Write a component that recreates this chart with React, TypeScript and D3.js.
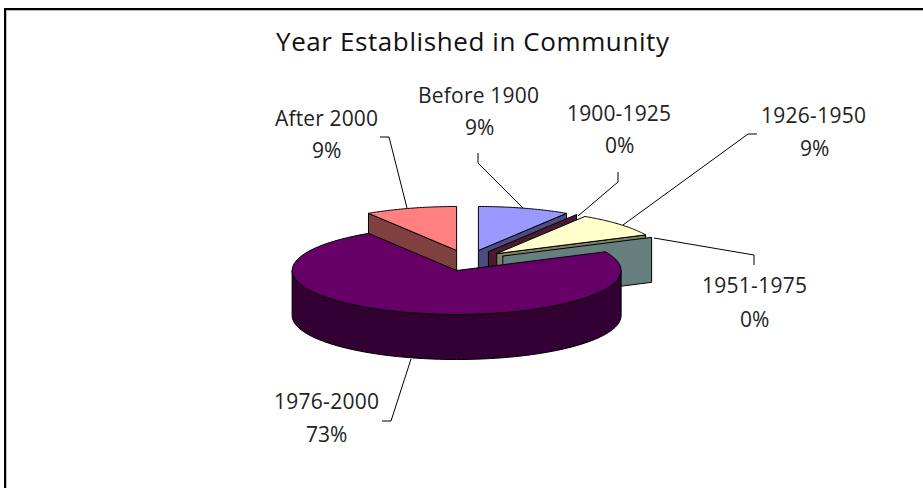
import * as d3 from "d3";

const categories = ["Before 1900", "1900-1925", "1926-1950", "1951-1975", "1976-2000", "After 2000"];
const percents = [9, 0, 9, 0, 73, 9];
const topColors = ["#9999ff", "#993366", "#ffffcc", "#ccffff", "#660066", "#ff8080"];
const sideColors = ["#4c4c80", "#4d1a33", "#808066", "#668080", "#330033", "#804040"];

// where each label sits: name x/baseline, pct x/baseline, widths
const labelLayout = [
  { x: 418, y: 103, w: 121, px: 465, py: 135 },
  { x: 567, y: 121, w: 104, px: 605, py: 153 },
  { x: 761, y: 123, w: 105, px: 800, py: 156 },
  { x: 702, y: 293, w: 105, px: 740, py: 327 },
  { x: 274, y: 409, w: 105, px: 306, py: 442 },
  { x: 275, y: 126, w: 103, px: 312, py: 158 },
];

const leaders: [number, number][][] = [
  [[478, 153], [478, 163], [523, 208]],
  [[618, 172], [618, 182], [578, 216]],
  [[757, 134], [748, 134], [623, 225]],
  [[654, 238], [754, 255], [754, 265]],
  [[382, 421], [391, 421], [411, 359]],
  [[380, 137], [389, 137], [407, 208]],
];

const WIDTH = 923;
const HEIGHT = 488;
const cx = 467.5;
const cy = 260.5;
const rx = 164.5;
const ry = 44;
const depth = 45;
const explode = 39;
const TAU = Math.PI * 2;
const FONT = "'Open Sans', sans-serif";

export default function App() {
  const arcs = d3
    .pie<number>()
    .value((d) => d)
    .sort(null)(percents);

  const line = d3.line();

  // purple goes last, it sits in front of everything
  const drawOrder = [5, 0, 1, 2, 3, 4];

  const slices = drawOrder.map((i) => {
    const a = arcs[i];
    const mid = (a.startAngle + a.endAngle) / 2;
    const ox = cx + explode * Math.sin(mid);
    const oy = cy - explode * Math.cos(mid) * (ry / rx);
    const at = (t: number, dz = 0): [number, number] => [
      ox + rx * Math.sin(t),
      oy - ry * Math.cos(t) + dz,
    ];

    const steps = d3.range(0, 61).map((k) => a.startAngle + ((a.endAngle - a.startAngle) * k) / 60);
    const top = line([[ox, oy], ...steps.map((t) => at(t))]) + "Z";

    const walls: string[] = [];
    // outer wall, only the part facing the viewer
    const from = Math.max(a.startAngle, Math.PI / 2);
    const to = Math.min(a.endAngle, (3 * Math.PI) / 2);
    if (to > from) {
      const outer = d3.range(0, 61).map((k) => from + ((to - from) * k) / 60);
      walls.push(
        line([...outer.map((t) => at(t)), ...outer.slice().reverse().map((t) => at(t, depth))]) + "Z"
      );
    }
    const radialWall = (t: number) =>
      line([[ox, oy], at(t), at(t, depth), [ox, oy + depth]]) + "Z";
    if (a.endAngle > 0 && a.endAngle < Math.PI) walls.push(radialWall(a.endAngle));
    if (a.startAngle > Math.PI && a.startAngle < TAU) walls.push(radialWall(a.startAngle));

    return { i, top, walls, empty: a.endAngle === a.startAngle };
  });

  return (
    <svg
      width={WIDTH}
      height={HEIGHT}
      style={{ position: "absolute", left: 0, top: 0, background: "#fff" }}
    >
      {/* frame: only top and left edges show, with a soft grey inner edge */}
      <line x1={6} y1={10.5} x2={WIDTH} y2={10.5} stroke="#bbb" strokeWidth={1} />
      <line x1={6.5} y1={10} x2={6.5} y2={HEIGHT} stroke="#bbb" strokeWidth={1} />
      <line x1={4} y1={9} x2={WIDTH} y2={9} stroke="#000" strokeWidth={2} />
      <line x1={5} y1={8} x2={5} y2={HEIGHT} stroke="#000" strokeWidth={2} />

      <text
        x={276}
        y={51}
        fontFamily={FONT}
        fontSize={26}
        fill="#111"
        textLength={393}
        lengthAdjust="spacing"
      >
        Year Established in Community
      </text>

      {leaders.map((pts, i) => (
        <path key={i} d={line(pts) ?? ""} fill="none" stroke="#000" strokeWidth={1} />
      ))}

      {slices.map((s) => (
        <g key={s.i} stroke="#000" strokeWidth={1} strokeLinejoin="round">
          {s.walls.map((d, k) => (
            <path key={k} d={d} fill={sideColors[s.i]} />
          ))}
          {!s.empty && <path d={s.top} fill={topColors[s.i]} />}
        </g>
      ))}

      {categories.map((name, i) => {
        const l = labelLayout[i];
        return (
          <g key={name} fontFamily={FONT} fontSize={21} fill="#222">
            <text x={l.x} y={l.y} textLength={l.w} lengthAdjust="spacing">
              {name}
            </text>
            <text x={l.px} y={l.py}>
              {percents[i]}%
            </text>
          </g>
        );
      })}
    </svg>
  );
}
